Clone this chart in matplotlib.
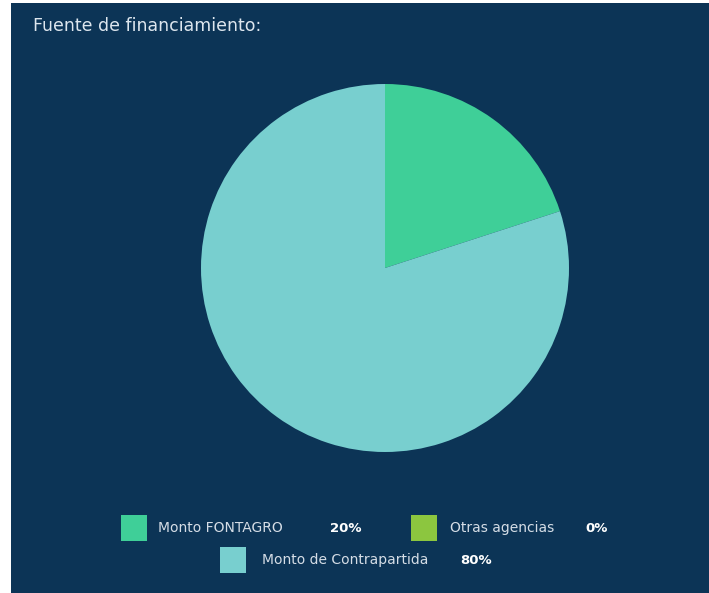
import matplotlib.pyplot as plt
from matplotlib.patches import Rectangle

# datos
categorias = ['Monto FONTAGRO', 'Otras agencias', 'Monto de Contrapartida']
valores = [20, 0, 80]
etiquetas_pct = ['20%', '0%', '80%']
colores = ['#3fcf98', '#8cc63f', '#78cfcf']
titulo = 'Fuente de financiamiento:'

fondo = '#0c3456'
W, H = 709, 593

fig = plt.figure(figsize=(W / 100, H / 100), dpi=100)
fig.patch.set_facecolor('white')
# panel oscuro (borde blanco a la izquierda y arriba)
fig.patches.append(Rectangle((11 / W, 0), 1 - 11 / W, 1 - 3 / H,
                             transform=fig.transFigure, facecolor=fondo,
                             edgecolor='none', zorder=-5))

fig.text(33 / W, 1 - 26 / H, titulo, color='#dde6ee', fontsize=12.5,
         family='DejaVu Sans', va='center', ha='left')

# pie
ax = fig.add_axes([201 / W, 141 / H, 368 / W, 368 / H])
ax.pie(valores, colors=colores, startangle=90, counterclock=False,
       radius=1, wedgeprops=dict(linewidth=0))
ax.set_xlim(-1, 1)
ax.set_ylim(-1, 1)
ax.set_aspect('equal')
ax.axis('off')

# leyenda manual
filas = [
    (121, 528, 158, 330),
    (411, 528, 450, 585),
    (220, 560, 262, 460),
]
for (sx, cy, tx, px), cat, pct, col in zip(filas, categorias, etiquetas_pct, colores):
    fig.patches.append(Rectangle((sx / W, 1 - (cy + 13) / H), 26 / W, 26 / H,
                                 transform=fig.transFigure, facecolor=col,
                                 edgecolor='none'))
    fig.text(tx / W, 1 - cy / H, cat, color='#d5dde6', fontsize=10,
             family='DejaVu Sans', va='center', ha='left')
    fig.text(px / W, 1 - cy / H, pct, color='white', fontsize=9.5,
             family='DejaVu Sans', fontweight='bold', va='center', ha='left')

fig.savefig('out.png', dpi=100, facecolor=fig.get_facecolor())
